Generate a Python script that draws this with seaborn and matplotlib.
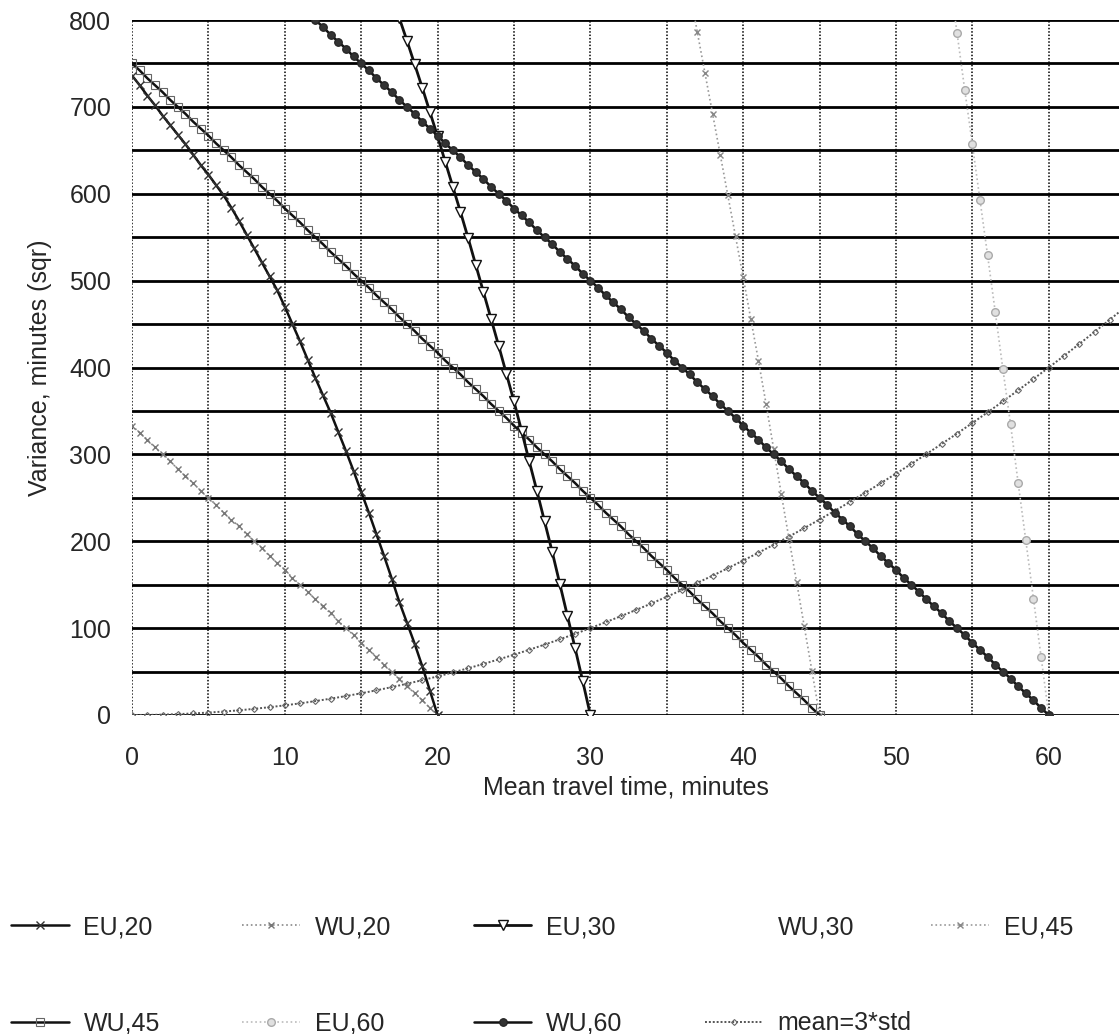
import numpy as np
import matplotlib
matplotlib.use("Agg")
import matplotlib.pyplot as plt
from matplotlib.lines import Line2D
import seaborn as sns

sns.set_style("white")
plt.rcParams["font.family"] = ["Liberation Sans", "DejaVu Sans"]

# mean travel time samples (minutes) for each series
eu20_x = np.arange(0, 20.5, 0.5)
eu20_v = [736, 725, 713, 702, 690, 679, 668, 657, 645, 633, 622, 610, 598, 584, 569, 553,
          537, 521, 505, 489, 470, 450, 430, 409, 388, 368, 348, 326, 304, 281, 257, 233,
          208, 183, 157, 130, 106, 82, 56, 28, 0]

wu20_x = np.arange(0, 20.5, 0.5)
wu20_v = [333, 325, 317, 308, 300, 292, 283, 275, 267, 258, 250, 242, 233, 225, 217, 208,
          200, 192, 183, 175, 167, 158, 150, 142, 133, 125, 117, 108, 100, 92, 83, 75,
          67, 58, 50, 42, 33, 25, 17, 8, 0]

eu30_x = np.arange(17, 30.5, 0.5)
eu30_v = [828, 802, 776, 749, 722, 694, 666, 637, 608, 579, 549, 518, 487, 456, 425, 393,
          361, 327, 292, 258, 223, 188, 151, 114, 77, 39, 0]

eu45_x = np.arange(36.5, 45.5, 0.5)
eu45_v = [834, 786, 739, 692, 645, 598, 551, 504, 456, 408, 358, 306, 254, 203, 153, 102, 51, 0]

wu45_x = np.arange(0, 45.5, 0.5)
wu45_v = [750, 742, 733, 725, 717, 708, 700, 692, 683, 675, 667, 658, 650, 642, 633, 625,
          617, 608, 600, 592, 583, 575, 567, 558, 550, 542, 533, 525, 517, 508, 500, 492,
          483, 475, 467, 458, 450, 442, 433, 425, 417, 408, 400, 392, 383, 375, 367, 358,
          350, 342, 333, 325, 317, 308, 300, 292, 283, 275, 267, 258, 250, 242, 233, 225,
          217, 208, 200, 192, 183, 175, 167, 158, 150, 142, 133, 125, 117, 108, 100, 92,
          83, 75, 67, 58, 50, 42, 33, 25, 17, 8, 0]

eu60_x = np.arange(53.5, 60.5, 0.5)
eu60_v = [850, 785, 720, 657, 593, 529, 464, 398, 335, 267, 201, 134, 67, 0]

wu60_x = np.arange(12, 60.5, 0.5)
wu60_v = [800, 792, 783, 775, 767, 758, 750, 742, 733, 725, 717, 708, 700, 692, 683, 675,
          667, 658, 650, 642, 633, 625, 617, 608, 600, 592, 583, 575, 567, 558, 550, 542,
          533, 525, 517, 508, 500, 492, 483, 475, 467, 458, 450, 442, 433, 425, 417, 408,
          400, 392, 383, 375, 367, 358, 350, 342, 333, 325, 317, 308, 300, 292, 283, 275,
          267, 258, 250, 242, 233, 225, 217, 208, 200, 192, 183, 175, 167, 158, 150, 142,
          133, 125, 117, 108, 100, 92, 83, 75, 67, 58, 50, 42, 33, 25, 17, 8, 0]

mean_x = np.arange(0, 66, 1)
mean_v = [0, 0.1, 0.4, 1, 1.8, 2.8, 4, 5.4, 7.1, 9, 11.1, 13.4, 16, 18.8, 21.8, 25,
          28.4, 32.1, 36, 40.1, 44.4, 49, 53.8, 58.8, 64, 69.4, 75.1, 81, 87.1, 93.4, 100,
          106.8, 113.8, 121, 128.4, 136.1, 144, 152.1, 160.4, 169, 177.8, 186.8, 196, 205.4,
          215.1, 225, 235.1, 245.4, 256, 266.8, 277.8, 289, 300.4, 312.1, 324, 336.1, 348.4,
          361, 373.8, 386.8, 400, 413.4, 427.1, 441, 455.1, 469.4]

W, H = 1119, 1034
FS = 18
fig = plt.figure(figsize=(W / 100, H / 100), dpi=100)
ax = fig.add_axes([132 / W, 1 - 715 / H, (W - 132) / W, (715 - 20) / H])

def draw(x, y, **kw):
    sns.lineplot(x=x, y=y, ax=ax, **kw)
    return ax.lines[-1]

h = {}
h["mean=3*std"] = draw(mean_x, mean_v, color="#555555", lw=1.4, ls=(0, (1, 1)), marker="D",
                       ms=3, mfc="none", mec="#666666", mew=0.8)
h["WU,20"] = draw(wu20_x, wu20_v, color="#888888", lw=1.2, ls=":", marker="x", ms=5,
                  mec="#777777", mew=1)
h["EU,45"] = draw(eu45_x, eu45_v, color="#999999", lw=1.2, ls=":", marker="x", ms=5,
                  mec="#888888", mew=1)
h["EU,60"] = draw(eu60_x, eu60_v, color="#bbbbbb", lw=1.2, ls=":", marker="o", ms=5.5,
                  mfc="#e0e0e0", mec="#aaaaaa", mew=1)
h["WU,45"] = draw(wu45_x, wu45_v, color="#111111", lw=1.8, marker="s", ms=6,
                  mfc="none", mec="#666666", mew=0.8)
h["EU,20"] = draw(eu20_x, eu20_v, color="#111111", lw=1.8, marker="x", ms=6,
                  mec="#333333", mew=1)
h["EU,30"] = draw(eu30_x, eu30_v, color="#111111", lw=2, marker="v", ms=6.5,
                  mfc="white", mec="#111111", mew=1)
h["WU,60"] = draw(wu60_x, wu60_v, color="#111111", lw=1.8, marker="o", ms=5.5,
                  mfc="#333333", mec="#222222", mew=0.8)
h["WU,30"] = Line2D([], [], ls="none")

ax.set_xlim(0, 64.6)
ax.set_ylim(0, 800)
ax.set_xticks(np.arange(0, 61, 10))
ax.set_xticks(np.arange(5, 65, 10), minor=True)
ax.set_yticks(np.arange(0, 801, 100))
ax.set_yticks(np.arange(50, 800, 100), minor=True)
ax.set_axisbelow(True)
ax.grid(axis="y", which="both", color="black", lw=2, ls="-")
ax.grid(axis="x", which="both", color="black", lw=1.1, ls=(0, (1, 1.2)))
for s in ax.spines.values():
    s.set_visible(False)
ax.tick_params(axis="y", which="major", length=7, width=2, color="black", pad=8, labelsize=FS)
ax.tick_params(axis="y", which="minor", length=0)
ax.tick_params(axis="x", which="both", length=9.5, width=1, color="0.4", pad=13, labelsize=FS)
ax.set_xlabel("Mean travel time, minutes", fontsize=FS, labelpad=4)
ax.set_ylabel("Variance, minutes (sqr)", fontsize=FS, labelpad=12)
if ax.get_legend() is not None:
    ax.get_legend().remove()

# two rows, filled column by column
order = ["EU,20", "WU,45", "WU,20", "EU,60", "EU,30", "WU,60", "WU,30", "mean=3*std"]
common = dict(loc="upper left", frameon=False, fontsize=FS, handlelength=2.3,
              handletextpad=0.6, labelspacing=2.9, borderpad=0, borderaxespad=0)
leg1 = fig.legend([h[k] for k in order], order, ncol=4, columnspacing=3.3,
                  bbox_to_anchor=(11 / W, 1 - 915 / H), **common)
leg2 = fig.legend([h["EU,45"]], ["EU,45"], bbox_to_anchor=(931 / W, 1 - 915 / H), **common)

fig.savefig("out.png", dpi=100)
